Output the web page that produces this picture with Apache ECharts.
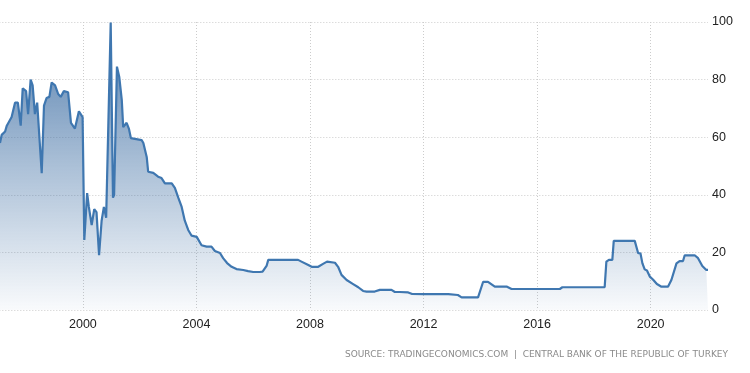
<!DOCTYPE html>
<html>
<head>
<meta charset="utf-8">
<script src="https://cdn.jsdelivr.net/npm/echarts@6/dist/echarts.min.js"></script>
<style>
html,body{margin:0;padding:0;background:#fff;}
#c{width:750px;height:373px;}
</style>
</head>
<body>
<div id="c"></div>
<script>
var dates = [1997.08,1997.14,1997.26,1997.32,1997.36,1997.49,1997.61,1997.71,1997.81,1997.88,1998.00,1998.07,1998.16,1998.23,1998.31,1998.39,1998.55,1998.63,1998.72,1998.82,1998.90,1999.02,1999.13,1999.22,1999.33,1999.48,1999.58,1999.72,1999.86,1999.99,2000.05,2000.15,2000.21,2000.31,2000.40,2000.48,2000.57,2000.66,2000.74,2000.82,2000.98,2001.06,2001.10,2001.20,2001.28,2001.37,2001.42,2001.54,2001.62,2001.69,2002.07,2002.13,2002.25,2002.30,2002.48,2002.65,2002.77,2002.89,2003.13,2003.24,2003.36,2003.48,2003.59,2003.71,2003.83,2004.01,2004.18,2004.36,2004.53,2004.65,2004.83,2004.94,2005.08,2005.24,2005.41,2005.65,2005.82,2006.00,2006.23,2006.33,2006.47,2006.53,2006.82,2007.58,2007.70,2007.94,2008.06,2008.29,2008.46,2008.60,2008.88,2008.99,2009.11,2009.29,2009.52,2009.70,2009.87,2009.99,2010.28,2010.46,2010.87,2010.99,2011.16,2011.46,2011.60,2011.99,2012.87,2012.92,2013.21,2013.34,2013.92,2014.10,2014.27,2014.51,2014.94,2015.10,2016.80,2016.89,2018.38,2018.44,2018.53,2018.65,2018.70,2019.44,2019.56,2019.64,2019.71,2019.79,2019.87,2019.97,2020.08,2020.22,2020.38,2020.61,2020.73,2020.79,2020.91,2021.02,2021.14,2021.20,2021.55,2021.67,2021.82,2021.96,2022.02];
var rates = [58,60.8,62,64,63.5,67,72,72,64,77,76,68,80,78,68,72,47.5,71,73.6,74,79,78,75,74,76,75.6,65,63,69,67,24.3,40.6,35.8,29.5,35,34,19,31,35.8,32,99.8,39,40,84.5,81,73,63.5,65,63,59.7,59,58,53,48,47.6,46.3,45.8,44,44,42.4,39,35.8,31,27.8,25.8,25.4,22.5,22,22,20.5,19.8,18,16.3,15,14.2,13.9,13.5,13.2,13.2,13.3,15.3,17.4,17.4,17.4,16.8,15.6,15,15,16,16.8,16.4,15,12.2,10.4,9,7.9,6.6,6.4,6.4,7,7,6.25,6.25,6.1,5.55,5.5,5.5,5.2,5.2,4.4,4.4,9.8,9.8,8.1,8.1,7.3,7.3,7.9,7.9,16.8,17.4,17.4,24,24,19.7,19.7,16.2,14.1,13.7,11.6,10.6,9,8.1,8.1,10.4,10.4,16.2,17,17,19,19,18,15.3,13.9,13.9];
var xTickYears = [2000,2004,2008,2012,2016,2020];
var yTicks = [0,20,40,60,80,100];
var sourceText = 'SOURCE: TRADINGECONOMICS.COM  |  CENTRAL BANK OF THE REPUBLIC OF TURKEY';

var seriesData = dates.map(function(d,i){return [d, rates[i]];});

var chart = echarts.init(document.getElementById('c'));
var pxPerYear = 28.4;
var xMin = 1996;
var gridLeft = -(dates[0]-xMin)*pxPerYear;
chart.setOption({
  animation:false,
  grid:{left:gridLeft, right:42, top:22, bottom:63, containLabel:false, outerBoundsMode:'none'},
  xAxis:{
    type:'value', min:xMin, max:2022.02, interval:4,
    axisLine:{show:false}, axisTick:{show:false},
    axisLabel:{margin:8, color:'#222', fontSize:12.5, fontFamily:'Liberation Sans, Arial, sans-serif',
      showMaxLabel:false,
      formatter:function(v){return xTickYears.indexOf(Math.round(v))>=0 && Math.abs(v-Math.round(v))<1e-6 ? String(Math.round(v)) : '';}},
    splitLine:{show:true, showMaxLine:false, lineStyle:{color:'#cccccc', type:[1,2], width:1}}
  },
  yAxis:{
    type:'value', position:'right', min:yTicks[0], max:yTicks[yTicks.length-1], interval:20,
    axisLine:{show:false}, axisTick:{show:false},
    axisLabel:{margin:4, color:'#222', fontSize:12.5, fontFamily:'Liberation Sans, Arial, sans-serif'},
    splitLine:{show:true, lineStyle:{color:'#cccccc', type:[1,2], width:1}}
  },
  series:[{
    type:'line', data:seriesData, symbol:'none', smooth:false,
    lineStyle:{color:'#3f77b0', width:2.2},
    areaStyle:{opacity:1, color:new echarts.graphic.LinearGradient(0,0,0,1,[
      {offset:0,color:'rgba(55,105,160,0.85)'},
      {offset:0.5,color:'rgba(55,105,160,0.42)'},
      {offset:1,color:'rgba(55,105,160,0.03)'}
    ])}
  }],
  graphic:[{
    type:'text', right:22, top:350,
    style:{text:sourceText, fill:'#8a8a8a', fontSize:9, fontFamily:'DejaVu Sans, Verdana, sans-serif'}
  }]
});
</script>
</body>
</html>
